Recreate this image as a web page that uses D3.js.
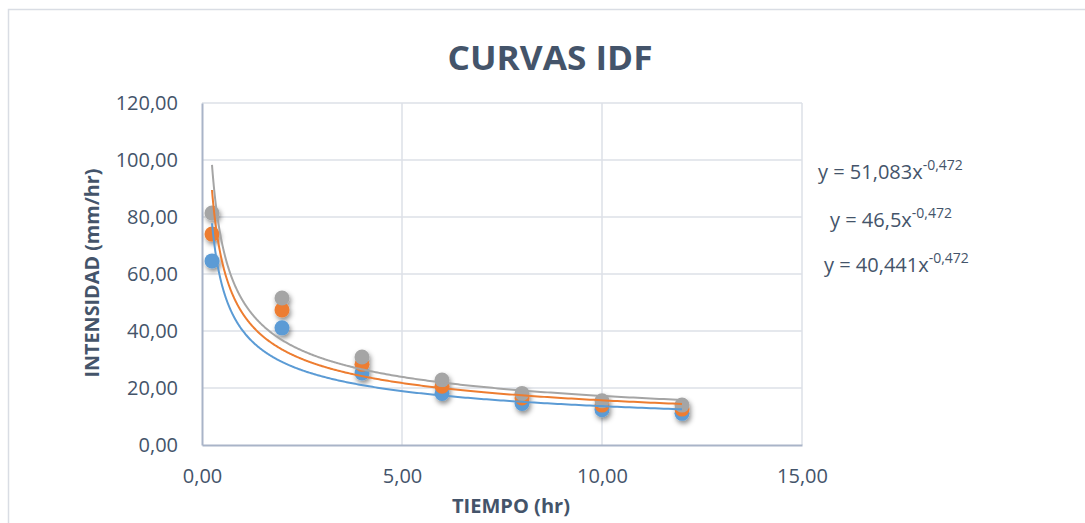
<!DOCTYPE html>
<html>
<head>
<meta charset="utf-8">
<script src="https://cdn.jsdelivr.net/npm/d3@7"></script>
<style>
  html, body { margin: 0; padding: 0; background: #fff; }
  svg { display: block; }
  text { font-family: "Open Sans", "Noto Sans", sans-serif; fill: #44546A; }
</style>
</head>
<body>
<script>
// Durations (hr) and intensities (mm/hr) for the three return periods
const durations = [0.25, 2, 4, 6, 8, 10, 12];
const seriesLow  = [64.6, 41.1, 25.3, 18.1, 14.6, 12.4, 11.1];
const seriesMid  = [74.0, 47.4, 28.3, 20.6, 16.5, 14.0, 12.6];
const seriesHigh = [81.4, 51.6, 30.9, 22.8, 18.1, 15.5, 14.0];

// Power-law fits y = a * x^b
const fitCoefficients = [40.441, 46.5, 51.083];
const fitLabels = ["40,441", "46,5", "51,083"];
const fitExponent = -0.472;
const fitExponentLabel = "-0,472";

const xTicks = [0, 5, 10, 15];
const yTicks = [0, 20, 40, 60, 80, 100, 120];

const colors = ["#5B9BD5", "#ED7D31", "#A5A5A5"];
const seriesList = [seriesLow, seriesMid, seriesHigh];

const W = 1085, H = 523;
const margin = { left: 202, right: 283, top: 103, bottom: 78 };

const fmt = v => v.toFixed(2).replace(".", ",");

const svg = d3.select("body").append("svg").attr("width", W).attr("height", H);

// drop shadow for markers
const defs = svg.append("defs");
const filt = defs.append("filter").attr("id", "shadow")
  .attr("x", "-60%").attr("y", "-60%").attr("width", "220%").attr("height", "220%");
filt.append("feDropShadow").attr("dx", 1.5).attr("dy", 3)
  .attr("stdDeviation", 2.5).attr("flood-color", "#000").attr("flood-opacity", 0.45);

// chart frame
svg.append("rect").attr("x", 8.5).attr("y", 9.5).attr("width", W + 10).attr("height", H + 10)
  .attr("fill", "none").attr("stroke", "#D9DDE4").attr("stroke-width", 1.5);

const x = d3.scaleLinear().domain([0, 15]).range([margin.left, W - margin.right]);
const y = d3.scaleLinear().domain([0, 120]).range([H - margin.bottom, margin.top]);

// gridlines
svg.append("g").selectAll("line").data(yTicks.filter(d => d > 0)).join("line")
  .attr("x1", x(0)).attr("x2", x(15)).attr("y1", d => y(d)).attr("y2", d => y(d))
  .attr("stroke", "#DCE0E7").attr("stroke-width", 1.5);
svg.append("g").selectAll("line").data(xTicks.filter(d => d > 0)).join("line")
  .attr("x1", d => x(d)).attr("x2", d => x(d)).attr("y1", y(0)).attr("y2", y(120))
  .attr("stroke", "#DCE0E7").attr("stroke-width", 1.5);

// axes
const xAxis = svg.append("g").attr("transform", `translate(0,${y(0)})`)
  .call(d3.axisBottom(x).tickValues(xTicks).tickFormat(fmt).tickSize(0).tickPadding(24));
const yAxis = svg.append("g").attr("transform", `translate(${x(0)},0)`)
  .call(d3.axisLeft(y).tickValues(yTicks).tickFormat(fmt).tickSize(0).tickPadding(24));
[xAxis, yAxis].forEach(g => {
  g.select(".domain").attr("stroke", "#A9B4C8").attr("stroke-width", 2);
  g.selectAll("text").style("font-size", "20px").attr("fill", "#44546A")
    .style("font-family", '"Open Sans", sans-serif');
});
xAxis.selectAll("text").attr("dy", "0.71em");

// markers
const markerLayer = svg.append("g").attr("filter", "url(#shadow)");
seriesList.forEach((vals, i) => {
  markerLayer.append("g").selectAll("circle").data(vals).join("circle")
    .attr("cx", (d, j) => x(durations[j])).attr("cy", d => y(d)).attr("r", 7.5)
    .attr("fill", colors[i]);
});

// fitted trend curves
const line = d3.line().x(d => x(d[0])).y(d => y(d[1])).curve(d3.curveLinear);
const xs = d3.range(0, 401).map(k => durations[0] * Math.pow(durations[durations.length - 1] / durations[0], k / 400));
fitCoefficients.forEach((a, i) => {
  svg.append("path").datum(xs.map(v => [v, a * Math.pow(v, fitExponent)]))
    .attr("d", line).attr("fill", "none").attr("stroke", colors[i]).attr("stroke-width", 2);
});

// fit equations
const eqPos = [[824, 272], [830, 227], [818, 179]];
fitLabels.forEach((lab, i) => {
  const t = svg.append("text").attr("x", eqPos[i][0]).attr("y", eqPos[i][1])
    .style("font-size", "20px");
  t.append("tspan").text(`y = ${lab}x`);
  t.append("tspan").attr("dy", -9).style("font-size", "14px").text(fitExponentLabel);
});

// title
svg.append("text").attr("x", 550).attr("y", 70).attr("text-anchor", "middle")
  .style("font-size", "34px").style("font-weight", "700")
  .attr("textLength", 205).attr("lengthAdjust", "spacingAndGlyphs")
  .text("CURVAS IDF");

// axis titles
svg.append("text").attr("x", 511).attr("y", 513).attr("text-anchor", "middle")
  .style("font-size", "19px").style("font-weight", "700")
  .attr("textLength", 118).attr("lengthAdjust", "spacingAndGlyphs")
  .text("TIEMPO (hr)");
svg.append("text").attr("transform", "translate(99,273) rotate(-90)").attr("text-anchor", "middle")
  .style("font-size", "19px").style("font-weight", "700")
  .attr("textLength", 209).attr("lengthAdjust", "spacingAndGlyphs")
  .text("INTENSIDAD (mm/hr)");
</script>
</body>
</html>
